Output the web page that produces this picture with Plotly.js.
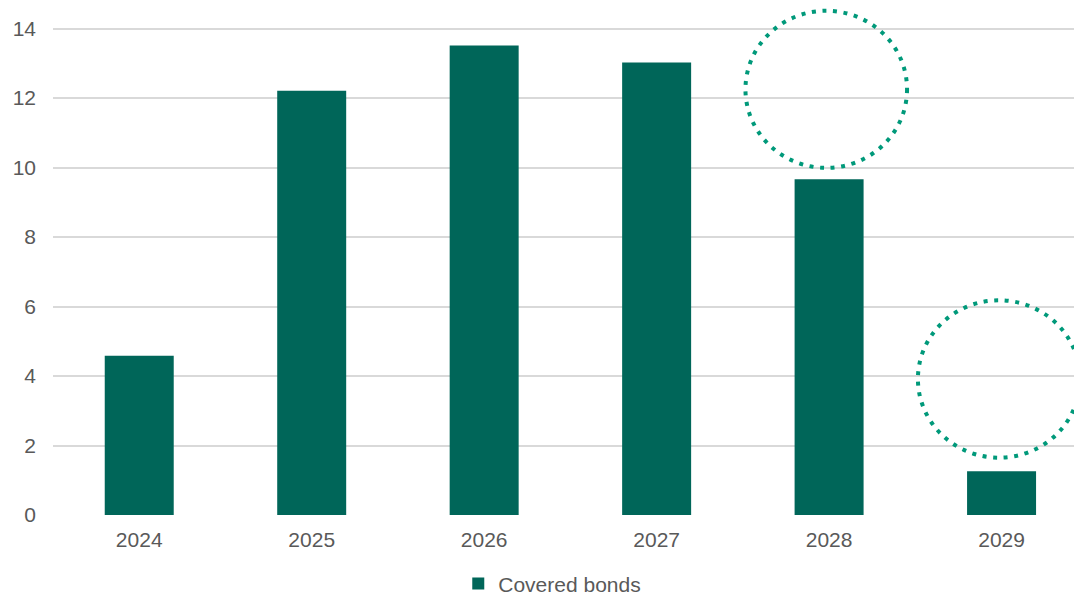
<!DOCTYPE html>
<html>
<head>
<meta charset="utf-8">
<script src="https://cdn.plot.ly/plotly-3.0.1.min.js"></script>
<style>
  html, body { margin: 0; padding: 0; background: #ffffff; overflow: hidden; }
  #chart { width: 1074px; height: 595px; }
</style>
</head>
<body>
<div id="chart"></div>
<script>
// Issuance profile by year
const years = ['2024', '2025', '2026', '2027', '2028', '2029'];
const coveredBonds = [4.58, 12.21, 13.51, 13.02, 9.66, 1.26];
const seriesName = 'Covered bonds';
const yTicks = [0, 2, 4, 6, 8, 10, 12, 14];

const barColor = '#006659';
const ringColor = '#00997a';
const textColor = '#595959';

const trace = {
  type: 'bar',
  x: years,
  y: coveredBonds,
  name: seriesName,
  marker: { color: barColor },
  showlegend: true,
  hoverinfo: 'x+y'
};

// dotted rings highlighting the last two years
const ring = (x0, x1, y0, y1) => ({
  type: 'circle',
  xref: 'x', yref: 'y',
  x0: x0, x1: x1, y0: y0, y1: y1,
  line: { color: ringColor, width: 4, dash: '4px,6.6px' },
  fillcolor: 'rgba(0,0,0,0)',
  layer: 'above'
});

const layout = {
  width: 1074,
  height: 595,
  margin: { l: 53, r: 0, t: 8, b: 80, autoexpand: false },
  paper_bgcolor: '#ffffff',
  plot_bgcolor: '#ffffff',
  font: { family: 'Liberation Sans, Arial, sans-serif', size: 21, color: textColor },
  bargap: 0.6,
  showlegend: true,
  legend: {
    orientation: 'h',
    x: 0.489, xanchor: 'center',
    y: -0.136, yanchor: 'middle',
    font: { size: 21, color: textColor }
  },
  xaxis: {
    type: 'category',
    range: [-0.5, 5.42],
    showgrid: false,
    zeroline: false,
    showline: false,
    ticks: '',
    ticklabelstandoff: 10,
    tickfont: { size: 21, color: textColor }
  },
  yaxis: {
    range: [0, 14.59],
    tickvals: yTicks,
    ticktext: yTicks.map(String),
    showgrid: true,
    gridcolor: '#d9d9d9',
    gridwidth: 2,
    zeroline: false,
    showline: false,
    ticks: '',
    ticklabelstandoff: 16,
    tickfont: { size: 21, color: textColor }
  },
  shapes: [
    ring(3.515, 4.452, 9.99, 14.51),
    ring(4.515, 5.455, 1.65, 6.18)
  ]
};

Plotly.newPlot('chart', [trace], layout, { displayModeBar: false, staticPlot: true });
</script>
</body>
</html>
